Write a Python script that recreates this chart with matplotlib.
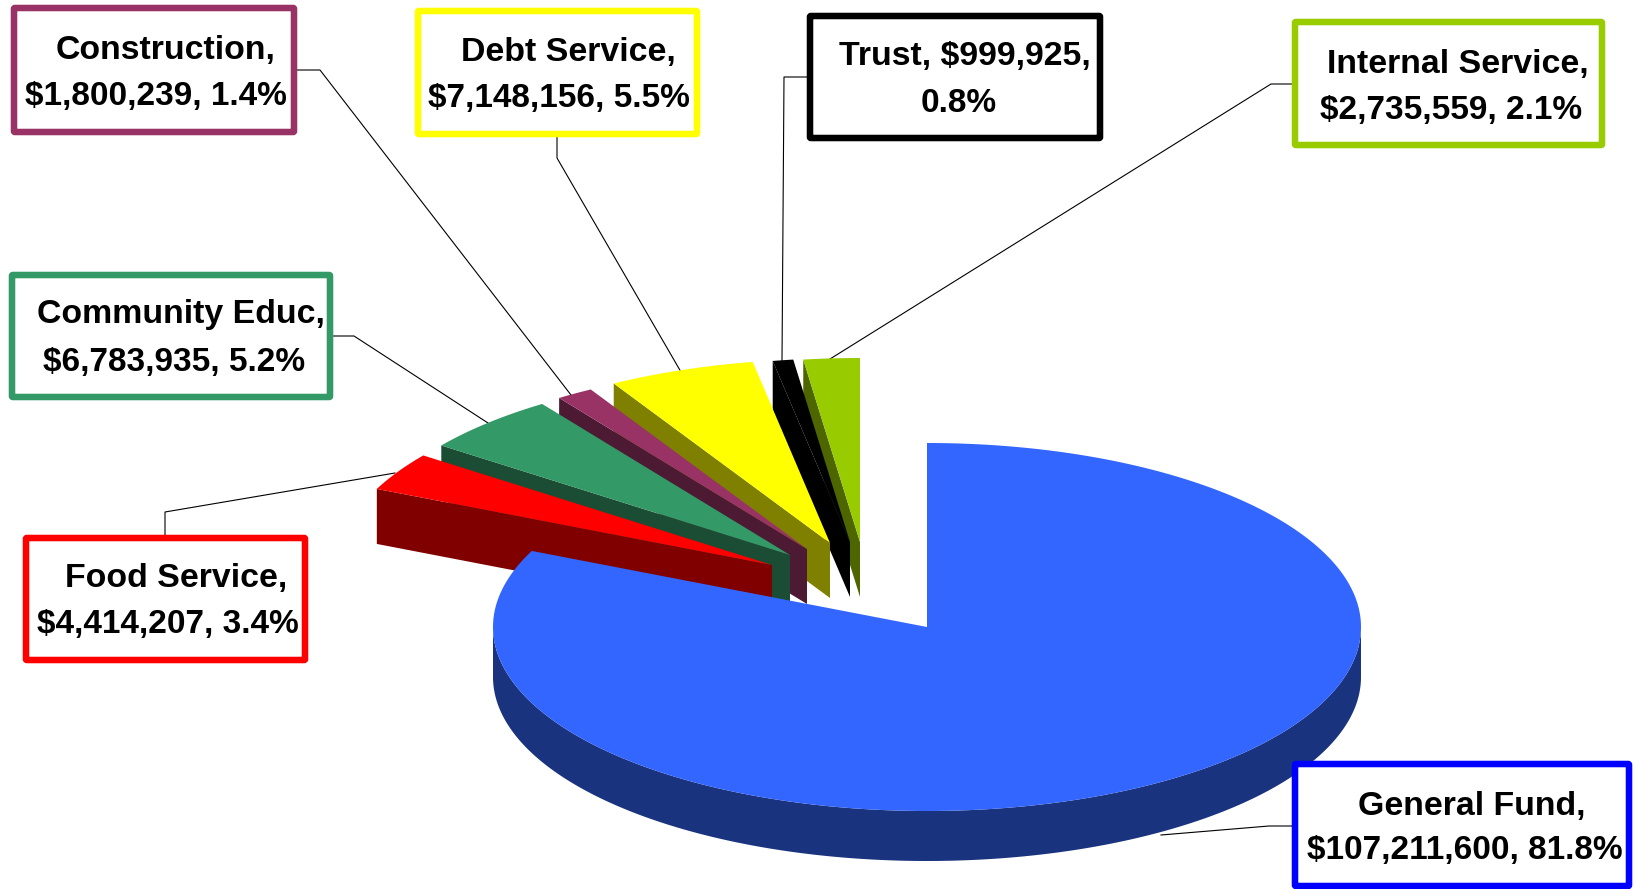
import numpy as np
import matplotlib
matplotlib.use("Agg")
import matplotlib.pyplot as plt
from matplotlib.patches import Polygon, FancyBboxPatch

plt.rcParams['font.family'] = ['Liberation Sans', 'DejaVu Sans']

# datos de la grafica, en el orden del pastel (horario desde arriba)
funds = ["General Fund", "Food Service", "Community Educ", "Construction", "Debt Service", "Trust", "Internal Service"]
amounts = [107211600, 4414207, 6783935, 1800239, 7148156, 999925, 2735559]
label_line1 = ["General Fund,", "Food Service,", "Community Educ,", "Construction,", "Debt Service,", "Trust, $999,925,", "Internal Service,"]
label_line2 = ["$107,211,600, 81.8%", "$4,414,207, 3.4%", "$6,783,935, 5.2%", "$1,800,239, 1.4%", "$7,148,156, 5.5%", "0.8%", "$2,735,559, 2.1%"]

top_colors = ["#3366FF", "#FF0000", "#339966", "#993366", "#FFFF00", "#000000", "#99CC00"]
side_colors = ["#1A337F", "#800000", "#1A4D33", "#4D1A33", "#808000", "#000000", "#4D6600"]
box_colors = ["#0000FF", "#FF0000", "#339966", "#993366", "#FFFF00", "#000000", "#99CC00"]

# punta de cada porcion en pixeles (las porciones separadas estan movidas a mano)
apex = [(927, 627), (772, 565), (790, 555), (807, 549), (830, 543), (850, 542), (860, 542)]
rx, ry = 434, 184
depths = [50, 55, 55, 55, 55, 55, 55]

# cajas: x0, y0, x1, y1 (linea central del borde)
boxes = [(1295, 764, 1629, 886), (26, 538, 305, 660), (12, 275, 330, 397), (14, 8, 294, 132),
         (418, 11, 697, 134), (810, 16, 1100, 138), (1295, 22, 1602, 145)]
text_pos = [(1472, 806, 1465, 851), (176, 579, 168, 625), (181, 315, 174, 362), (166, 50, 156, 96),
            (568, 52, 559, 98), (965, 57, 959, 103), (1458, 64, 1451, 110)]
# lineas guia
leaders = [
    [(1292, 826), (1269, 826), (1161, 835)],
    [(165, 535), (165, 512), (395, 473)],
    [(333, 336), (354, 336), (488, 423)],
    [(297, 70), (320, 70), (571, 395)],
    [(557, 137), (557, 158), (681, 372)],
    [(807, 77), (784, 77), (782, 361)],
    [(1292, 84), (1271, 84), (830, 359)],
]


def arc(center, start, end):
    t = np.radians(np.linspace(start, end, max(int(abs(end - start) * 2), 2)))
    return np.column_stack([center[0] + rx * np.sin(t), center[1] - ry * np.cos(t)])


fig = plt.figure(figsize=(16.34, 8.89), dpi=100)
ax = fig.add_axes([0, 0, 1, 1])
ax.set_xlim(0, 1634)
ax.set_ylim(889, 0)
ax.axis("off")

angles = np.concatenate([[0], np.cumsum(amounts) / np.sum(amounts) * 360])

for pts in leaders:
    ax.plot(*zip(*pts), color="black", lw=0.8, zorder=1)

# primero las separadas, de derecha a izquierda, y al final la grande
for i in list(range(len(funds) - 1, 0, -1)) + [0]:
    c = apex[i]
    a0, a1 = angles[i], angles[i + 1]
    d = depths[i]
    z = 2 + (len(funds) - i)
    if i == 0:
        # pared exterior: solo la mitad de abajo se ve
        low = arc(c, 90, 270)
        wall = np.vstack([low, low[::-1] + [0, d]])
        ax.add_patch(Polygon(wall, closed=True, fc=side_colors[i], ec="none", zorder=z))
    else:
        p0 = arc(c, a0, a0 + 0.01)[0]
        wall = [p0, c, (c[0], c[1] + d), (p0[0], p0[1] + d)]
        ax.add_patch(Polygon(wall, closed=True, fc=side_colors[i], ec="none", zorder=z))
    top = np.vstack([[c], arc(c, a0, a1)])
    ax.add_patch(Polygon(top, closed=True, fc=top_colors[i], ec="none", zorder=z + 0.5))

for i in range(len(funds)):
    x0, y0, x1, y1 = boxes[i]
    ax.add_patch(FancyBboxPatch((x0, y0), x1 - x0, y1 - y0, boxstyle="round,pad=0,rounding_size=1",
                                fc="white", ec=box_colors[i], lw=4.7, zorder=20))
    tx1, ty1, tx2, ty2 = text_pos[i]
    ax.text(tx1, ty1, label_line1[i], ha="center", va="center", fontsize=24.4, fontweight="bold", zorder=21)
    ax.text(tx2, ty2, label_line2[i], ha="center", va="center", fontsize=24, fontweight="bold", zorder=21)

fig.savefig("out.png", dpi=100, facecolor="white")
